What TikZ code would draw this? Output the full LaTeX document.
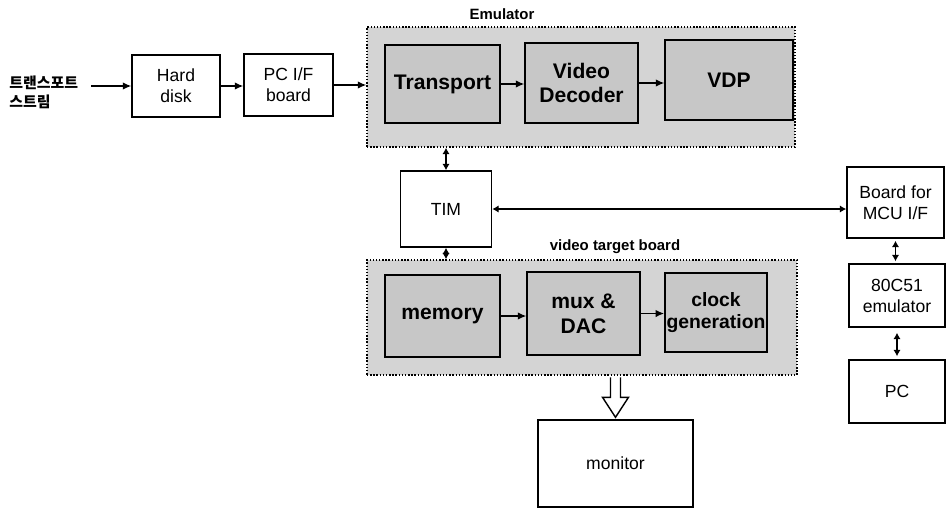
\documentclass[tikz,border=0pt]{standalone}
\usepackage{fontspec}
\setmainfont{Liberation Sans}
\newfontfamily\korfont{Noto Sans CJK KR}
\usetikzlibrary{arrows.meta,positioning,calc}
\tikzset{
  blk/.style={rectangle, draw, line width=0.8pt, align=center, fill=white,
              font=\fontsize{10}{12}\selectfont, inner sep=2pt},
  inblk/.style={rectangle, draw, line width=0.8pt, align=center, fill=black!22,
                font=\bfseries\fontsize{12}{14}\selectfont, inner sep=1pt},
  grp/.style={rectangle, draw, densely dotted, line width=0.8pt, fill=black!17},
  grplbl/.style={font=\bfseries\fontsize{8.5}{10}\selectfont, inner sep=1pt},
  fl/.style={-{Latex[length=1.7mm,width=1.5mm]}, line width=0.8pt},
  bi/.style={{Latex[length=1.3mm,width=1.5mm]}-{Latex[length=1.3mm,width=1.5mm]}, line width=0.8pt},
  hollow/.style={draw, line width=0.8pt, fill=white, line join=miter},
}

\begin{document}
\begin{tikzpicture}[x=0.2mm, y=-0.2mm]
\useasboundingbox (0,0) rectangle (946,508);
% groups
\node[grp, minimum width=85.6mm, minimum height=24mm] (emu) at (581,87) {};
\node[grp, minimum width=86mm, minimum height=23mm] (vtb) at (582,317.5) {};
\node[grplbl] (emulbl) at (502,14) {Emulator};
\node[grplbl] (vtblbl) at (615,247) {video target board};
% input side
\node[font=\korfont\bfseries\fontsize{8.5}{10.8}\selectfont, align=left, anchor=west, inner sep=0pt] (kor) at (9,92) {트랜스포트\\스트림};
\node[blk, minimum width=17.6mm, minimum height=12.4mm] (hd) at (176,86) {Hard\\disk};
\node[blk, minimum width=17.8mm, minimum height=12.4mm] (pcif) at (288.5,85) {PC I/F\\board};
% emulator
\node[inblk, minimum width=23mm, minimum height=15.6mm] (tp) at (442.5,84) {Transport};
\node[inblk, minimum width=22.6mm, minimum height=16mm] (vd) at (581.5,83) {Video\\Decoder};
\node[inblk, minimum width=25.6mm, minimum height=16mm] (vdp) at (729,80) {VDP};
\node[blk, minimum width=18.2mm, minimum height=15.2mm] (tim) at (446,209) {TIM};
% video target board
\node[inblk, minimum width=23mm, minimum height=16.4mm] (mem) at (442.5,316) {memory};
\node[inblk, minimum width=22.6mm, minimum height=16.6mm] (mux) at (583.5,313.5) {mux \&\\DAC};
\node[inblk, minimum width=20.4mm, minimum height=15.8mm, font=\bfseries\fontsize{11}{13}\selectfont] (clk) at (716,312.5) {clock\\generation};
\node[blk, minimum width=31mm, minimum height=17.4mm] (mon) at (615.5,463.5) {monitor};
% MCU side
\node[blk, minimum width=19.4mm, minimum height=14.2mm] (mcu) at (895.5,202.5) {Board for\\MCU I/F};
\node[blk, minimum width=19.2mm, minimum height=12.6mm] (emu51) at (897,295.5) {80C51\\emulator};
\node[blk, minimum width=19.2mm, minimum height=12.6mm] (pc) at (897,391.5) {PC};
% connectors
\draw[fl] ([xshift=2.6mm]kor.east |- hd.west) -- (hd.west);
\draw[fl] (hd.east) -- (hd.east -| pcif.west);
\draw[fl] (pcif.east) -- (pcif.east -| emu.west);
\draw[fl] (tp) -- (tp -| vd.west);
\draw[fl] (vd) -- (vd -| vdp.west);
\draw[bi] (tim.north) -- (tim.north |- emu.south);
\draw[bi] (tim.south) -- (tim.south |- vtb.north);
\draw[bi] (tim.east) -- (tim.east -| mcu.west);
\draw[bi, shorten <=0.4mm, shorten >=0.4mm] (mcu.south) -- (mcu.south |- emu51.north);
\draw[bi, shorten <=1mm, shorten >=0.6mm] (emu51.south) -- (pc.north);
\draw[fl] (mem) -- (mem -| mux.west);
\draw[fl] (mux) -- (mux -| clk.west);
\draw[hollow] ($(mon.north)+(-5,-42)$) -- ($(mon.north)+(-5,-22)$) -- ($(mon.north)+(-13,-22)$)
  -- ($(mon.north)+(0,-2)$) -- ($(mon.north)+(13,-22)$) -- ($(mon.north)+(5,-22)$) -- ($(mon.north)+(5,-42)$);
\end{tikzpicture}
\end{document}
